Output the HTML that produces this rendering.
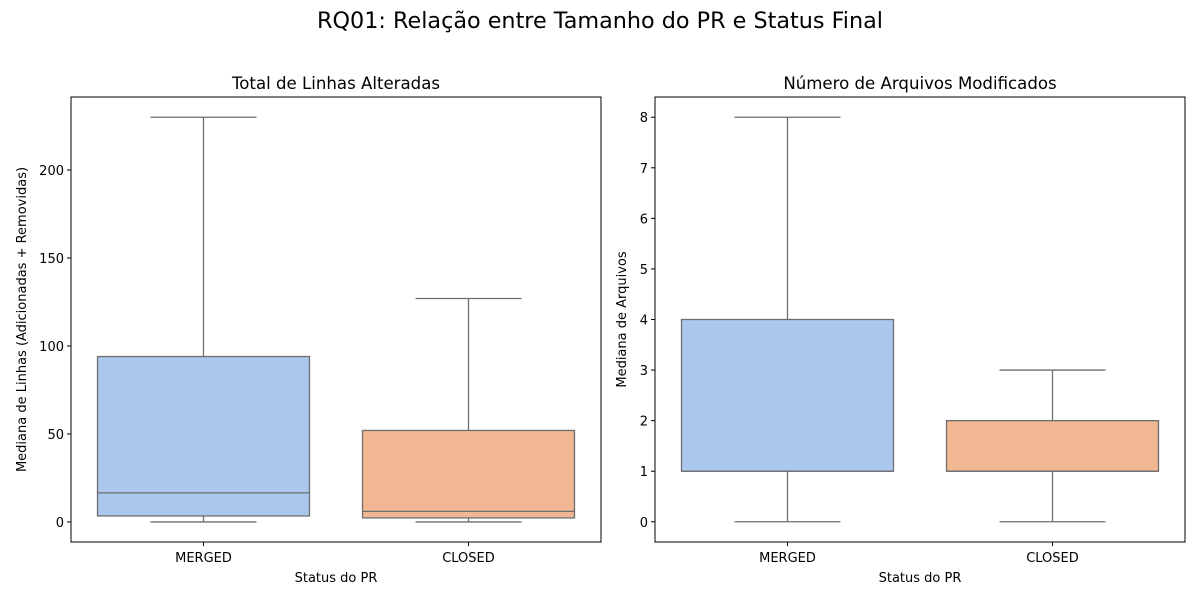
<!DOCTYPE html>
<html><head><meta charset="utf-8"><style>
body{margin:0;background:#fff;font-family:"Liberation Sans","DejaVu Sans",sans-serif;}
svg text{font-family:"DejaVu Sans","Liberation Sans",sans-serif;fill:#000;}
</style></head><body>
<svg id="fig" width="1200" height="600" xmlns="http://www.w3.org/2000/svg">
<text x="600" y="28" font-size="22.3" text-anchor="middle">RQ01: Relação entre Tamanho do PR e Status Final</text>
</svg>
<script>
const categories = ["MERGED", "CLOSED"];
const linesStats = [[0, 3.4, 16.5, 94, 230], [0, 2.3, 6, 52, 127]];
const filesStats = [[0, 1, 1, 4, 8], [0, 1, 1, 2, 3]];
const linesTicks = [0, 50, 100, 150, 200];
const filesTicks = [0, 1, 2, 3, 4, 5, 6, 7, 8];
const boxColors = ["#abc8ec", "#f0b792"];
const NS = "http://www.w3.org/2000/svg";
const svg = document.getElementById('fig');
function mk(tag, attrs, parent, text) {
  const e = document.createElementNS(NS, tag);
  for (const k in attrs) e.setAttribute(k, attrs[k]);
  if (text !== undefined) e.textContent = text;
  (parent || svg).appendChild(e);
  return e;
}
function panel(name, x0, x1, y0, y1, ymin, ymax, ticks, stats, title, ylabel) {
  const g = mk('g', {});
  
  
  const sy = v => y1 - (v - ymin) / (ymax - ymin) * (y1 - y0);
  const sx = i => x0 + (i + 0.5) / 2 * (x1 - x0);
  const unit = (x1 - x0) / 2;
  const t = mk('text', {x: (x0 + x1) / 2, y: y0 - 8, 'font-size': 16.6, 'text-anchor': 'middle'}, g, title);
  
  
  ticks.forEach(v => {
    const tk = mk('line', {x1: x0 - 4, x2: x0, y1: sy(v), y2: sy(v), stroke: '#000'}, g);
    
    
    const tl = mk('text', {x: x0 - 7, y: sy(v) + 5, 'font-size': 13, 'text-anchor': 'end'}, g, v);
    
    
  });
  stats.forEach((s, i) => {
    const cx = sx(i), bw = 0.8 * unit, cw = 0.4 * unit;
    const c = '#6e6e6e';
    const w1 = mk('line', {x1: cx, x2: cx, y1: sy(s[0]), y2: sy(s[1]), stroke: c, 'stroke-width': 1.3}, g);
    
    
    const w2 = mk('line', {x1: cx, x2: cx, y1: sy(s[3]), y2: sy(s[4]), stroke: c, 'stroke-width': 1.3}, g);
    
    
    [s[0], s[4]].forEach(v => {
      const cap = mk('line', {x1: cx - cw / 2, x2: cx + cw / 2, y1: sy(v), y2: sy(v), stroke: c, 'stroke-width': 1.3}, g);
      
      
    });
    const b = mk('rect', {x: cx - bw / 2, y: sy(s[3]), width: bw, height: sy(s[1]) - sy(s[3]), fill: boxColors[i], stroke: c, 'stroke-width': 1.3}, g);
    
    
    const m = mk('line', {x1: cx - bw / 2, x2: cx + bw / 2, y1: sy(s[2]), y2: sy(s[2]), stroke: c, 'stroke-width': 1.3}, g);
    
    
    const xt = mk('line', {x1: cx, x2: cx, y1: y1, y2: y1 + 4, stroke: '#000'}, g);
    
    
    const xl = mk('text', {x: cx, y: y1 + 20, 'font-size': 13, 'text-anchor': 'middle'}, g, categories[i]);
    
    
  });
  const fr = mk('rect', {x: x0, y: y0, width: x1 - x0, height: y1 - y0, fill: 'none', stroke: '#000', 'stroke-width': 1}, g);
  
  
  const xa = mk('text', {x: (x0 + x1) / 2, y: y1 + 40, 'font-size': 13, 'text-anchor': 'middle'}, g, 'Status do PR');
  
  
  const ya = mk('text', {x: 0, y: 0, 'font-size': 13, 'text-anchor': 'middle', transform: `translate(${ylabel[1]},${(y0 + y1) / 2}) rotate(-90)`}, g, ylabel[0]);
  
  
}
panel('lines-boxplot', 71, 601, 97, 542, -11.4, 241.5, linesTicks, linesStats, 'Total de Linhas Alteradas', ['Mediana de Linhas (Adicionadas + Removidas)', 26]);
panel('files-boxplot', 655, 1185, 97, 542, -0.4, 8.4, filesTicks, filesStats, 'Número de Arquivos Modificados', ['Mediana de Arquivos', 626]);
</script>
</body></html>
